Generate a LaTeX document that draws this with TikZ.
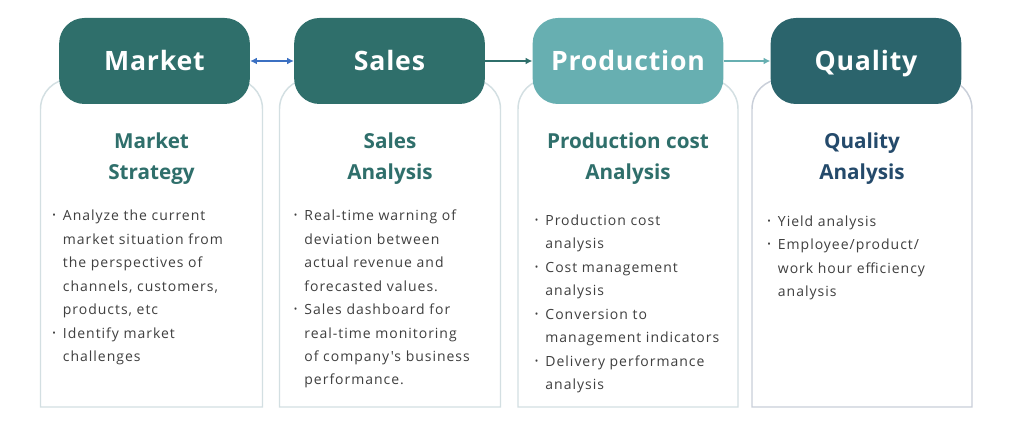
\documentclass[tikz,border=0pt]{standalone}
\usepackage{fontspec}
\usepackage{tikz}
\usetikzlibrary{arrows.meta}
\setmainfont{Open Sans}
\newfontfamily\bodyfont[LetterSpace=7]{Open Sans}
\newfontfamily\headfont[LetterSpace=3]{Open Sans}
\definecolor{darkteal}{HTML}{2F6F6B}
\definecolor{lightteal}{HTML}{67AFB1}
\definecolor{deepteal}{HTML}{2B646C}
\definecolor{cardline}{HTML}{D3DFE2}
\definecolor{cardlinegray}{HTML}{C9CFD9}
\definecolor{linkblue}{HTML}{3B70C2}
\definecolor{bodygray}{HTML}{3F3F3F}
\definecolor{titleblue}{HTML}{244A6B}

\tikzset{
    header/.style={rounded corners=19pt, minimum width=143pt, minimum height=64.5pt, inner sep=0pt,
        text=white, font=\headfont\bfseries\fontsize{20}{24}\selectfont, text height=14.3pt, text depth=0pt},
    card/.style={draw=cardline, line width=1.1pt, fill=white},
    cardtitle/.style={align=center, inner sep=0pt, text=darkteal, font=\bfseries\fontsize{15.5}{23.25}\selectfont},
    bullets/.style={align=left, inner sep=0pt, text=bodygray, font=\bodyfont\fontsize{10.5}{17.6}\selectfont},
    link/.style={line width=1.4pt}
}
\newcommand{\bitem}{\makebox[8pt][l]{\raisebox{0.25ex}{\fontsize{7}{7}\selectfont\textbullet}}}
\newcommand{\bcont}{\hspace*{8pt}}

\begin{document}
\begin{tikzpicture}[x=0.75pt, y=-0.75pt, >={Latex[length=5pt,width=5pt]}]
    \useasboundingbox (0,0) rectangle (1026,438);

    % First column (Market)
    \begin{scope}[shift={(40.5,0)}]
        \draw[card] (0,407) -- (0,109) .. controls (0,92.4) and (13.4,79) .. (30,79) -- (192,79)
            .. controls (208.6,79) and (222,92.4) .. (222,109) -- (222,407) -- cycle;
        \node[header, fill=darkteal] (market) at (114,61) {Market};
        \node[cardtitle, anchor=base] (markettitle) at (111,180) {Market\\Strategy};
        \node[bullets, anchor=base west] (marketlist) at (11.5,361.5) {\bitem Analyze the current\\
            \bcont market situation from\\ \bcont the perspectives of\\ \bcont channels, customers,\\
            \bcont products, etc\\ \bitem Identify market\\ \bcont challenges};
    \end{scope}

    % Second column (Sales)
    \begin{scope}[shift={(279.5,0)}]
        \draw[card] (0,407) -- (0,109) .. controls (0,92.4) and (13.4,79) .. (30,79) -- (191,79)
            .. controls (207.6,79) and (221,92.4) .. (221,109) -- (221,407) -- cycle;
        \node[header, fill=darkteal] (sales) at (110,61) {Sales};
        \node[cardtitle, anchor=base] (salestitle) at (110.5,180) {Sales\\Analysis};
        \node[bullets, anchor=base west] (saleslist) at (14,385) {\bitem Real-time warning of\\
            \bcont deviation between\\ \bcont actual revenue and\\ \bcont forecasted values.\\
            \bitem Sales dashboard for\\ \bcont real-time monitoring\\ \bcont of company's business\\
            \bcont performance.};
    \end{scope}

    % Third column (Production)
    \begin{scope}[shift={(518,0)}]
        \draw[card] (0,407) -- (0,109) .. controls (0,92.4) and (13.4,79) .. (30,79) -- (190,79)
            .. controls (206.6,79) and (220,92.4) .. (220,109) -- (220,407) -- cycle;
        \node[header, fill=lightteal] (production) at (110,61) {Production};
        \node[cardtitle, anchor=base] (productiontitle) at (110,180) {Production cost\\Analysis};
        \node[bullets, anchor=base west] (productionlist) at (16.5,389.5) {\bitem Production cost\\
            \bcont analysis\\ \bitem Cost management\\ \bcont analysis\\ \bitem Conversion to\\
            \bcont management indicators\\ \bitem Delivery performance\\ \bcont analysis};
    \end{scope}

    % Fourth column (Quality)
    \begin{scope}[shift={(752,0)}]
        \draw[card, draw=cardlinegray] (0,407) -- (0,109) .. controls (0,92.4) and (13.4,79) .. (30,79) -- (190,79)
            .. controls (206.6,79) and (220,92.4) .. (220,109) -- (220,407) -- cycle;
        \node[header, fill=deepteal] (quality) at (114,61) {Quality};
        \node[cardtitle, text=titleblue, anchor=base] (qualitytitle) at (110,180) {Quality\\Analysis};
        \node[bullets, anchor=base west] (qualitylist) at (15,296.5) {\bitem Yield analysis\\
            \bitem Employee/product/\\ \bcont work hour efficiency\\ \bcont analysis};
    \end{scope}

    % links between the headers
    \draw[link, linkblue, <->] (market) -- (sales);
    \draw[link, darkteal, ->] (sales) -- (production);
    \draw[link, lightteal, ->] (production) -- (quality);
\end{tikzpicture}
\end{document}
